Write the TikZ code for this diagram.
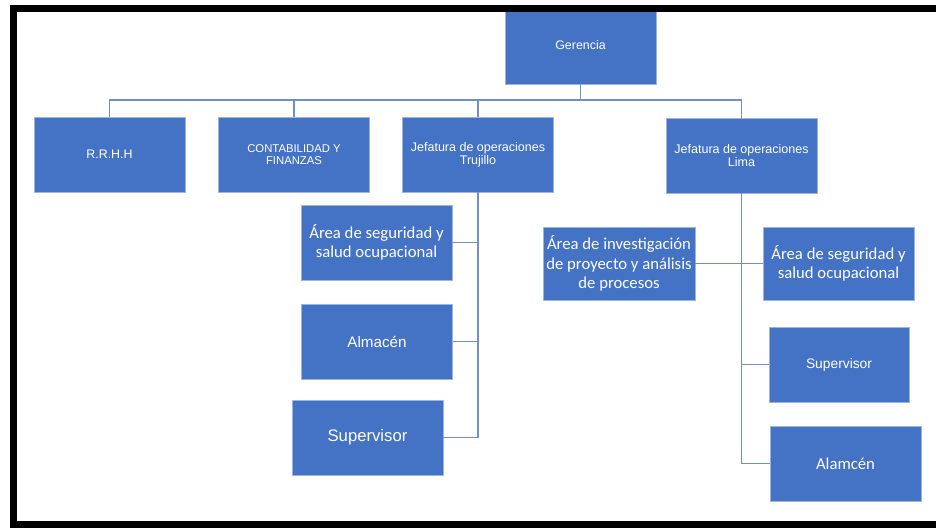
\documentclass[tikz,border=0pt]{standalone}
\usepackage{fontspec}
\setmainfont{Liberation Sans}
\newfontfamily\calfont{Carlito}
\definecolor{boxblue}{HTML}{4472C4}
\definecolor{boxedge}{HTML}{9DB3E0}
\definecolor{linkblue}{HTML}{6F8FD0}
\begin{document}
\begin{tikzpicture}[x=1pt,y=-1pt,
  unit/.style={draw=boxedge, fill=boxblue, text=white, line width=0.8pt,
    inner sep=0pt, align=center, minimum width=151pt, minimum height=75pt},
  arialtxt/.style={font=\fontsize{12.4}{13}\selectfont},
  headtxt/.style={font=\fontsize{12.5}{12.7}\selectfont},
  smalltxt/.style={font=\fontsize{11.3}{12.3}\selectfont},
  caltxt/.style={font=\calfont\fontsize{16.7}{19.3}\selectfont},
  link/.style={draw=linkblue, line width=1.1pt}]
\useasboundingbox (0,0) rectangle (936,527);
\clip (0,0) rectangle (936,527);

% top level
\node[unit, arialtxt, minimum height=78pt] (ger) at (580.5,45) {Gerencia};
\node[unit, arialtxt] (rrhh) at (109.5,154.5) {R.R.H.H};
\node[unit, smalltxt] (cont) at (294,154.5) {CONTABILIDAD Y\\FINANZAS};
\node[unit, headtxt] (jt) at (478,154.5) {Jefatura de operaciones\\Trujillo};
\node[unit, headtxt] (jl) at (741.5,155.5) {Jefatura de operaciones\\Lima};

% Trujillo branch
\node[unit, caltxt] (ts) at (376.5,242.5) {Área de seguridad y\\salud ocupacional};
\node[unit, font=\fontsize{15.2}{17}\selectfont] (ta) at (377,341.5) {Almacén};
\node[unit, font=\fontsize{16.7}{18}\selectfont] (tsu) at (367.5,437.5) {Supervisor};

% Lima branch
\node[unit, caltxt, minimum width=152pt, minimum height=73pt] (li) at (619,263.5)
  {Área de investigación\\de proyecto y análisis\\de procesos};
\node[unit, caltxt, minimum height=73pt] (ls) at (838.5,263.5) {Área de seguridad y\\salud ocupacional};
\node[unit, font=\fontsize{13.8}{15}\selectfont, minimum width=140pt] (lsu) at (839,364.5) {Supervisor};
\node[unit, caltxt] (la) at (845.5,463.5) {Alamcén};

% connectors
\coordinate (bus) at (0,100);
\draw[link] (ger.south) -- (ger.south |- bus) -| (rrhh.north);
\draw[link] (ger.south |- bus) -| (cont.north);
\draw[link] (ger.south |- bus) -| (jt.north);
\draw[link] (ger.south |- bus) -| (jl.north);

\draw[link] (jt.south) |- (ts.east);
\draw[link] (jt.south) |- (ta.east);
\draw[link] (jt.south) |- (tsu.east);

\draw[link] (jl.south) |- (la.west);
\draw[link] (jl.south |- ls.west) -- (ls.west);
\draw[link] (jl.south |- lsu.west) -- (lsu.west);
\draw[link] (li.east) -- (li.east -| jl.south);

% frame
\draw[line width=7pt, black] (13.5,8.5) rectangle (960,524.5);
\end{tikzpicture}
\end{document}
